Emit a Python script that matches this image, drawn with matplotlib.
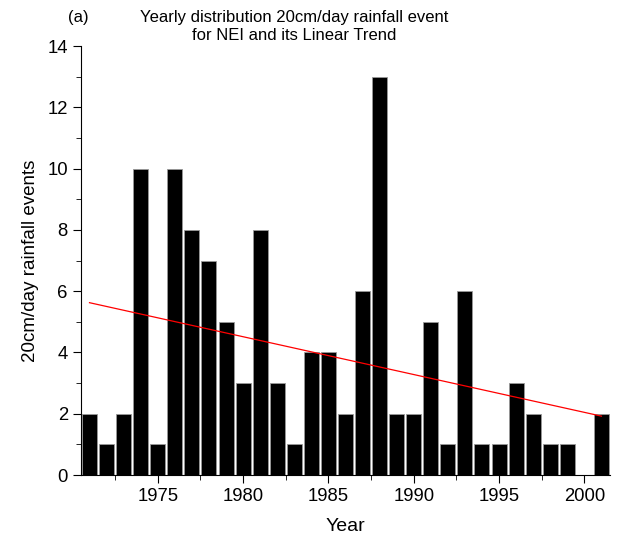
import numpy as np
import matplotlib.pyplot as plt
from matplotlib.ticker import MultipleLocator

plt.rcParams['font.family'] = ['Liberation Sans', 'DejaVu Sans']

# datos: eventos de lluvia de 20cm/dia por año (NEI)
years = np.arange(1971, 2002)
events = [2, 1, 2, 10, 1, 10, 8, 7, 5, 3, 8, 3, 1, 4, 4, 2, 6, 13,
          2, 2, 5, 1, 6, 1, 1, 3, 2, 1, 1, 0, 2]

# tendencia lineal
coef = np.polyfit(years, events, 1)
trend = np.polyval(coef, years)

fig = plt.figure(figsize=(6.18, 5.35), dpi=100)
ax = fig.add_axes([0.131, 0.112, 0.856, 0.802])
ax.bar(years, events, width=0.88, color='black', edgecolor='#999999', linewidth=0.6)
ax.plot(years, trend, color='red', linewidth=0.9)

ax.set_xlim(1970.5, 2001.5)
ax.set_ylim(0, 14)
ax.xaxis.set_major_locator(MultipleLocator(5))
ax.xaxis.set_minor_locator(MultipleLocator(2.5))
ax.yaxis.set_major_locator(MultipleLocator(2))
ax.yaxis.set_minor_locator(MultipleLocator(1))
ax.spines['top'].set_visible(False)
ax.spines['right'].set_visible(False)
ax.tick_params(which='both', direction='out', labelsize=13.3)
ax.tick_params(which='major', length=6)
ax.tick_params(which='minor', length=3.5)

ax.set_xlabel('Year', fontsize=14, labelpad=9)
ax.set_ylabel('20cm/day rainfall events', fontsize=13.5, labelpad=6)
fig.text(0.476, 0.951, 'Yearly distribution 20cm/day rainfall event\nfor NEI and its Linear Trend',
         ha='center', va='center', fontsize=12, linespacing=1.25)
fig.text(0.126, 0.967, '(a)', ha='center', va='center', fontsize=12)

plt.savefig('out.png', dpi=100)
